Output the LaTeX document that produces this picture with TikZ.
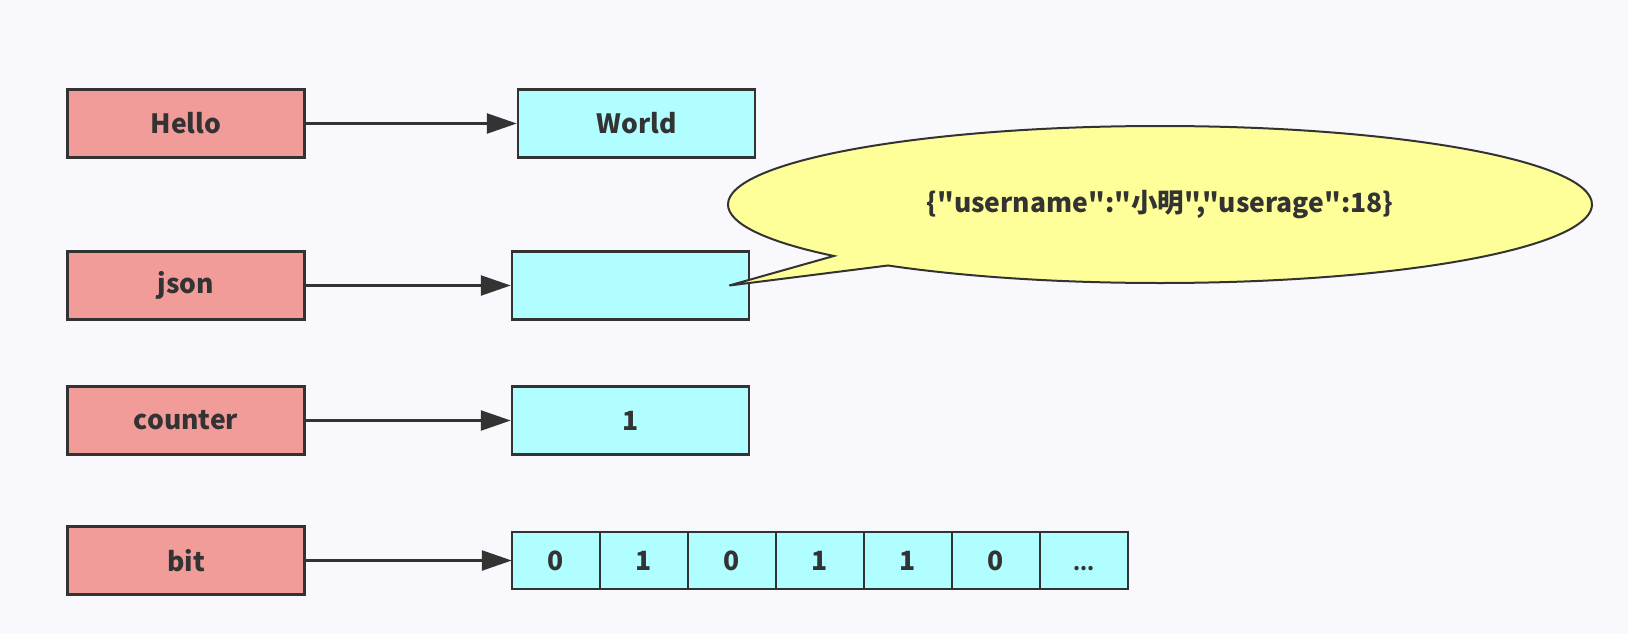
\documentclass[tikz,border=0pt]{standalone}
\usepackage{fontspec}
\setmainfont{Noto Sans CJK SC}[Ligatures=TeXOff]
\usetikzlibrary{arrows.meta,positioning,shapes.callouts}

\definecolor{bgcol}{RGB}{248,248,253}
\definecolor{keyred}{RGB}{241,156,153}
\definecolor{valcyan}{RGB}{176,254,255}
\definecolor{noteyellow}{RGB}{255,255,153}
\definecolor{ink}{RGB}{51,51,51}

\newcommand\bitdots{{\vphantom{0}\fontsize{20}{24}\selectfont...}}

\tikzset{
  keybox/.style={draw=ink, fill=keyred, line width=2.5pt, inner sep=0pt,
    minimum width=237pt, minimum height=68pt, text=ink,
    font=\fontsize{26.5}{30}\selectfont\bfseries},
  valbox/.style={keybox, fill=valcyan},
  bitcell/.style={valbox, minimum width=88pt, minimum height=57pt, outer sep=0pt},
  link/.style={draw=ink, line width=2.5pt, -{Triangle[length=30pt,width=20pt]}}
}

\begin{document}
\begin{tikzpicture}[x=1pt, y=-1pt]
  \fill[bgcol] (0,0) rectangle (1628,634);
  \useasboundingbox (0,0) rectangle (1628,634);

  % keys
  \node[keybox] (hello) at (186,123.5) {Hello};
  \node[keybox] (json) at (186,285.5) {json};
  \node[keybox] (counter) at (186,420.5) {counter};
  \node[keybox] (bit) at (186,560.5) {bit};

  % values
  \node[valbox, right=211pt of hello] (world) {World};
  \node[valbox, right=205pt of json] (jsonval) {};
  \node[valbox, right=205pt of counter] (counterval) {1};
  \node[bitcell, right=206pt of bit] (c1) {0};
  \foreach \b [count=\i from 2] in {1,0,1,1,0,\bitdots}{
    \pgfmathtruncatemacro\prev{\i-1}
    \node[bitcell, right=0pt of c\prev] (c\i) {\b};
  }

  \draw[link] (hello) -- (world);
  \draw[link] (json) -- (jsonval);
  \draw[link] (counter) -- (counterval);
  \draw[link] (bit) -- (c1);

  % note on the json value
  \coordinate[left=21pt of jsonval.east] (tip);
  \node[ellipse callout, draw=ink, fill=noteyellow, line width=2pt,
        minimum width=864pt, minimum height=157pt, inner sep=0pt,
        callout absolute pointer=(tip), callout pointer arc=10,
        text=ink, font=\fontsize{26.5}{30}\selectfont\bfseries]
        (note) at (1160,204.5) {\{"username":"小明","userage":18\}};
\end{tikzpicture}
\end{document}
